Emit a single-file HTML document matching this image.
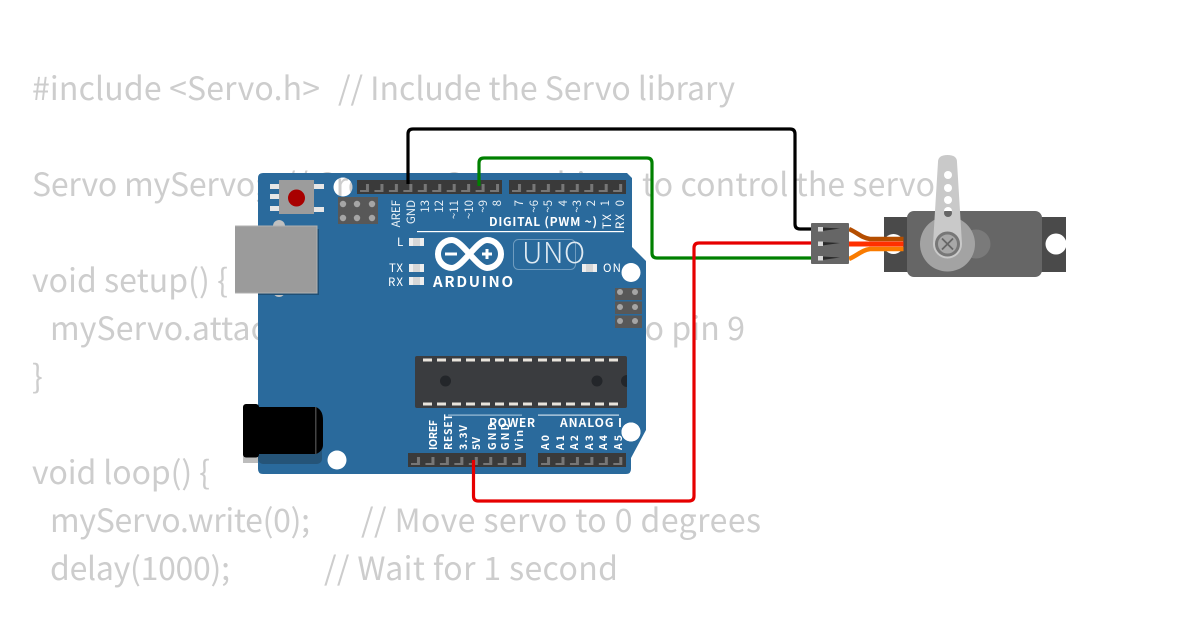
<!DOCTYPE html>
<html><head><meta charset="utf-8"><style>
html,body{margin:0;padding:0;background:#fff;width:1200px;height:630px;overflow:hidden}
svg{display:block}
.c{font-family:"Noto Sans CJK JP","DejaVu Sans",sans-serif;font-size:32px;fill:#cdcdcd;white-space:pre}
.l{font-family:"Noto Sans CJK JP","DejaVu Sans",sans-serif;fill:#fff;font-size:11.500px}
.t{font-family:"Noto Sans CJK JP","DejaVu Sans",sans-serif;fill:#e8f0f6;font-size:11.500px;text-anchor:end}
.b{font-family:"Noto Sans CJK JP","DejaVu Sans",sans-serif;fill:#fff;font-size:12px;font-weight:bold}
.v{font-family:"Noto Sans CJK JP","DejaVu Sans",sans-serif;fill:#fff;font-size:10.500px;font-weight:bold}
</style></head><body>
<svg width="1200" height="630" viewBox="0 0 1200 630" xmlns="http://www.w3.org/2000/svg">
<defs>
<pattern id="pin" x="357" y="180" width="14.45" height="14" patternUnits="userSpaceOnUse">
<rect width="14.45" height="14" fill="#3a3a3a"/>
<path d="M3 10H9V4H12V12H3Z" fill="#777"/>
</pattern>
<pattern id="pin2" x="509" y="180" width="14.45" height="14" patternUnits="userSpaceOnUse">
<rect width="14.45" height="14" fill="#3a3a3a"/>
<path d="M3 10H9V4H12V12H3Z" fill="#777"/>
</pattern>
<pattern id="pinb" x="408" y="453" width="14.45" height="14" patternUnits="userSpaceOnUse">
<rect width="14.45" height="14" fill="#3a3a3a"/>
<path d="M3 10H9V4H12V12H3Z" fill="#777"/>
</pattern>
</defs>
<rect width="1200" height="630" fill="#fff"/>
<g>
<text class="c" x="32" y="100" textLength="288">#include &lt;Servo.h&gt;</text>
<text class="c" x="338" y="100" textLength="397">// Include the Servo library</text>
<text class="c" x="32" y="196" textLength="232">Servo myServo;</text>
<text class="c" x="283" y="196" textLength="348">// Create a Servo object</text>
<text class="c" x="642" y="196" textLength="293">to control the servo</text>
<text class="c" x="32" y="292" textLength="196">void setup() {</text>
<text class="c" x="50" y="340" textLength="695" xml:space="preserve">myServo.attach(9);  // Attach the servo to pin 9</text>
<text class="c" x="32" y="388">}</text>
<text class="c" x="32" y="484" textLength="178">void loop() {</text>
<text class="c" x="50" y="532" textLength="260">myServo.write(0);</text>
<text class="c" x="361" y="532" textLength="400">// Move servo to 0 degrees</text>
<text class="c" x="50" y="580" textLength="180">delay(1000);</text>
<text class="c" x="324" y="580" textLength="294">// Wait for 1 second</text>
</g>

<!-- board with mounting holes -->
<path fill-rule="evenodd" d="M263 173H627L632 178V247L646 261V430L631 458V469Q631 474 626 474H263Q258 474 258 469V178Q258 173 263 173Z
M333.500 187a9.500 9.500 0 1 0 19 0a9.500 9.500 0 1 0 -19 0Z
M327.500 460a9.500 9.500 0 1 0 19 0a9.500 9.500 0 1 0 -19 0Z" fill="#2a6a9c"/>
<circle cx="631" cy="272.500" r="9.500" fill="#fff"/>
<circle cx="631" cy="432" r="9.500" fill="#fff"/>

<!-- reset -->
<g fill="#e6e6e6">
<rect x="270" y="184" width="10" height="5"/><rect x="270" y="194" width="10" height="5"/><rect x="270" y="206" width="10" height="5"/>
<rect x="313" y="184" width="11" height="5"/><rect x="313" y="207" width="11" height="5"/>
</g>
<rect x="279" y="180" width="35" height="34" fill="#9c9c9c"/>
<circle cx="296.500" cy="198" r="8.500" fill="#a80000"/>
<!-- ICSP top-left -->
<rect x="338" y="197" width="40" height="27" fill="#585858"/>
<g fill="#a5a5a5">
<circle cx="343" cy="204" r="3.200"/><circle cx="357" cy="204" r="3.200"/><circle cx="372" cy="204" r="3.200"/>
<circle cx="343" cy="218" r="3.200"/><circle cx="357" cy="218" r="3.200"/><circle cx="372" cy="218" r="3.200"/>
</g>
<!-- USB -->
<circle cx="279" cy="226" r="6" fill="#c0c0c0"/><circle cx="279" cy="291" r="6" fill="#c0c0c0"/>
<rect x="258" y="229" width="61" height="66" fill="#1f4f75"/>
<rect x="235" y="226" width="82" height="67" fill="#9b9b9b"/>
<path d="M235 226H317V293H235" fill="none" stroke="#b0b0b0" stroke-width="1"/>
<!-- jack -->
<rect x="258" y="410" width="64" height="54" rx="5" fill="#255478"/>
<rect x="243" y="452" width="15" height="11" fill="#bdbdbd"/>
<rect x="243" y="404" width="16" height="53.500" rx="3" fill="#000"/>
<path d="M258 407H316Q323 410 323 420V445Q323 451 316 454H258Z" fill="#000"/>
<rect x="315" y="407" width="1.500" height="47" fill="#444"/>

<!-- headers -->
<rect x="357" y="180" width="145" height="14" fill="url(#pin)"/>
<rect x="509" y="180" width="117" height="14" fill="url(#pin2)"/>
<rect x="408" y="453" width="118" height="14" fill="url(#pinb)"/>
<rect x="538" y="453" width="88" height="14" fill="url(#pinb)"/>

<!-- top pin labels -->
<g>
<text class="t" transform="translate(400,200) rotate(-90)">AREF</text>
<text class="t" transform="translate(415,200) rotate(-90)">GND</text>
<text class="t" transform="translate(429,200) rotate(-90)">13</text>
<text class="t" transform="translate(443,200) rotate(-90)">12</text>
<text class="t" transform="translate(458,200) rotate(-90)">~11</text>
<text class="t" transform="translate(473,200) rotate(-90)">~10</text>
<text class="t" transform="translate(487,200) rotate(-90)">~9</text>
<text class="t" transform="translate(501,200) rotate(-90)">8</text>
<text class="t" transform="translate(523,200) rotate(-90)">7</text>
<text class="t" transform="translate(538,200) rotate(-90)">~6</text>
<text class="t" transform="translate(552,200) rotate(-90)">~5</text>
<text class="t" transform="translate(567,200) rotate(-90)">4</text>
<text class="t" transform="translate(581,200) rotate(-90)">~3</text>
<text class="t" transform="translate(595,200) rotate(-90)">2</text>
<text class="t" transform="translate(609,200) rotate(-90)">1</text>
<text class="t" transform="translate(624,200) rotate(-90)">0</text>
<text class="l" transform="translate(611,229) rotate(-90)" textLength="15">TX</text>
<text class="l" transform="translate(624,229) rotate(-90)" textLength="15">RX</text>
</g>
<text class="b" x="489" y="226" textLength="108">DIGITAL (PWM ~)</text>
<rect x="417" y="231" width="207" height="1.200" fill="#fff"/>

<!-- LEDs -->
<g>
<rect x="409" y="238" width="15" height="8" fill="#eee"/><rect x="413" y="238" width="7" height="8" fill="#c8c8c8" opacity=".6"/>
<rect x="409" y="264" width="15" height="8" fill="#eee"/><rect x="413" y="264" width="7" height="8" fill="#c8c8c8" opacity=".6"/>
<rect x="409" y="277" width="15" height="8" fill="#eee"/><rect x="413" y="277" width="7" height="8" fill="#c8c8c8" opacity=".6"/>
<rect x="582" y="264" width="15" height="8" fill="#eee"/><rect x="586" y="264" width="7" height="8" fill="#c8c8c8" opacity=".6"/>
</g>
<text class="l" x="397" y="246">L</text>
<text class="l" x="389" y="272" textLength="14">TX</text>
<text class="l" x="388" y="286" textLength="15">RX</text>
<text class="l" x="603" y="272" textLength="18">ON</text>

<!-- logo -->
<path d="M452 240A14 14 0 1 0 452 268C462 268 477 240 487 240A14 14 0 1 1 487 268C477 268 462 240 452 240Z" fill="none" stroke="#fff" stroke-width="6"/>
<rect x="445" y="252.500" width="12" height="3" fill="#fff"/>
<path d="M482 254H492M487 249V259" stroke="#fff" stroke-width="3" fill="none"/>
<text class="b" x="433" y="287" textLength="80" style="font-size:15px">ARDUINO</text>
<rect x="513.500" y="239.500" width="62" height="30" rx="5" fill="none" stroke="#6f9cbf" stroke-width="1"/>
<text x="522" y="263" textLength="63" style="font-family:'Noto Sans CJK JP',sans-serif;font-size:29px;font-weight:300;fill:#dfeaf2">UNO</text>

<!-- right ICSP -->
<rect x="615" y="288" width="27" height="40" fill="#585858"/>
<rect x="615" y="300" width="27" height="1.500" fill="#2a6a9c"/><rect x="615" y="314" width="27" height="1.500" fill="#2a6a9c"/>
<g fill="#a5a5a5">
<circle cx="620" cy="292" r="3"/><circle cx="635" cy="292" r="3"/>
<circle cx="620" cy="307" r="3"/><circle cx="635" cy="307" r="3"/>
<circle cx="620" cy="321" r="3"/><circle cx="635" cy="321" r="3"/>
</g>

<!-- IC -->
<rect x="415" y="356" width="212" height="52" rx="2" fill="#3a3c3f"/>
<g fill="#e8e4dc">
<rect x="423" y="358.500" width="9" height="3"/><rect x="437" y="358.500" width="9" height="3"/><rect x="452" y="358.500" width="9" height="3"/><rect x="466" y="358.500" width="9" height="3"/><rect x="481" y="358.500" width="9" height="3"/><rect x="495" y="358.500" width="9" height="3"/><rect x="509" y="358.500" width="9" height="3"/><rect x="523" y="358.500" width="9" height="3"/><rect x="538" y="358.500" width="9" height="3"/><rect x="552" y="358.500" width="9" height="3"/><rect x="566" y="358.500" width="9" height="3"/><rect x="581" y="358.500" width="9" height="3"/><rect x="595" y="358.500" width="9" height="3"/><rect x="609" y="358.500" width="9" height="3"/>
<rect x="423" y="402.500" width="9" height="3"/><rect x="437" y="402.500" width="9" height="3"/><rect x="452" y="402.500" width="9" height="3"/><rect x="466" y="402.500" width="9" height="3"/><rect x="481" y="402.500" width="9" height="3"/><rect x="495" y="402.500" width="9" height="3"/><rect x="509" y="402.500" width="9" height="3"/><rect x="523" y="402.500" width="9" height="3"/><rect x="538" y="402.500" width="9" height="3"/><rect x="552" y="402.500" width="9" height="3"/><rect x="566" y="402.500" width="9" height="3"/><rect x="581" y="402.500" width="9" height="3"/><rect x="595" y="402.500" width="9" height="3"/><rect x="609" y="402.500" width="9" height="3"/>
</g>
<circle cx="445.500" cy="381" r="5.500" fill="#23262a"/>
<circle cx="597" cy="381" r="5.500" fill="#23262a"/>
<path d="M627 375A6 6 0 0 0 627 387Z" fill="#23262a"/>

<!-- bottom labels -->
<rect x="448" y="414.500" width="74" height="1.200" fill="#9fc0d8"/>
<rect x="538" y="414.500" width="81" height="1.200" fill="#cfe0ec"/>
<text class="b" x="489" y="427" textLength="46">POWER</text>
<text class="b" x="560" y="427" textLength="62">ANALOG I</text>
<g>
<text class="v" transform="translate(437,450) rotate(-90)" textLength="30">IOREF</text>
<text class="v" transform="translate(452,450) rotate(-90)" textLength="36">RESET</text>
<text class="v" transform="translate(467,450) rotate(-90)" textLength="25">3.3V</text>
<text class="v" transform="translate(480,450) rotate(-90)" textLength="13">5V</text>
<text class="v" transform="translate(496,450) rotate(-90)" textLength="27">GND</text>
<text class="v" transform="translate(509,450) rotate(-90)" textLength="27">GND</text>
<text class="v" transform="translate(523,450) rotate(-90)" textLength="20">Vin</text>
<text class="v" transform="translate(549,450) rotate(-90)" textLength="15">A0</text>
<text class="v" transform="translate(564,450) rotate(-90)" textLength="15">A1</text>
<text class="v" transform="translate(578,450) rotate(-90)" textLength="15">A2</text>
<text class="v" transform="translate(593,450) rotate(-90)" textLength="15">A3</text>
<text class="v" transform="translate(607,450) rotate(-90)" textLength="15">A4</text>
<text class="v" transform="translate(622,450) rotate(-90)" textLength="15">A5</text>
</g>

<!-- servo -->
<path d="M884 217H1066V272H884Z" fill="#4a4a4a"/>
<circle cx="893.500" cy="244" r="10" fill="#fff"/>
<circle cx="1056" cy="244" r="10.500" fill="#fff"/>
<rect x="907" y="211" width="135" height="66" rx="7" fill="#666"/>
<circle cx="976" cy="244" r="14.500" fill="#7a7a7a"/>
<circle cx="947.500" cy="244" r="27.500" fill="#a3a3a3"/>
<path d="M938 162Q938 155 947.500 155Q957 155 957 162L962 244A14.500 14.500 0 0 1 933 244Z" fill="#c9c9c9"/>
<circle cx="948" cy="175" r="4" fill="#fff"/><circle cx="948" cy="188" r="4" fill="#fff"/><circle cx="948" cy="200" r="4" fill="#fff"/><circle cx="948" cy="213" r="4" fill="#666"/>
<path d="M944 211A4 4 0 0 1 952 211Z" fill="#fff"/>
<circle cx="947.500" cy="244" r="11" fill="#a8a8a8" stroke="#777" stroke-width="3"/>
<path d="M942 238.500L953 249.500M953 238.500L942 249.500" stroke="#666" stroke-width="1.800"/>

<!-- servo wires -->
<path d="M849 229C858 233 862 238 870 239H903.500" fill="none" stroke="#b54e00" stroke-width="4.500"/>
<path d="M849 259C858 255 862 250 870 249H903.500" fill="none" stroke="#f97b00" stroke-width="4.500"/>
<path d="M849 244H903.500" fill="none" stroke="#ff2f00" stroke-width="5"/>

<!-- jumper wires -->
<g fill="none" stroke-width="3.200" stroke-linejoin="round">
<path d="M408 184V134Q408 129 413 129H790Q795 129 795 134V224Q795 229 800 229H812" stroke="#000"/>
<path d="M479 186V163Q479 158 484 158H647Q652 158 652 163V253Q652 258 657 258H812" stroke="#008000"/>
<path d="M473.500 460V496Q473.500 501 478 501H689Q694 501 694 496V248Q694 243 699 243H812" stroke="#e60000"/>
</g>
<!-- connector -->
<rect x="811" y="223" width="38" height="41" rx="1" fill="#666"/>
<g fill="#2a2a2a">
<path d="M822 227.500L840 228.500L822 231Z"/><path d="M822 242L840 243L822 245.500Z"/><path d="M822 256.500L840 257.500L822 260Z"/>
</g>
<g fill="#d8d8d8">
<rect x="818" y="227" width="5" height="4.500"/><rect x="818" y="241.500" width="5" height="4.500"/><rect x="818" y="256" width="5" height="4.500"/>
</g>
<circle cx="631" cy="432" r="9.500" fill="#fff"/>
</svg>
</body></html>
